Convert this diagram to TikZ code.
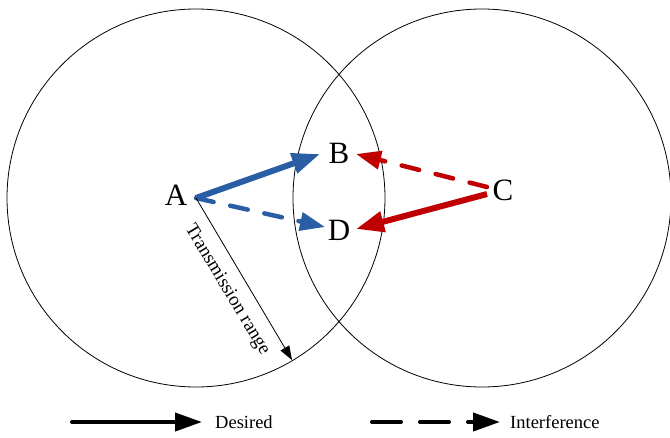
\documentclass[tikz,border=0pt]{standalone}
\usepackage{fontspec}
\setmainfont{Liberation Serif}
\usetikzlibrary{arrows.meta}
\definecolor{myblue}{RGB}{41,94,165}
\definecolor{myred}{RGB}{192,0,0}
\begin{document}
\begin{tikzpicture}[x=1pt,y=-1pt,
  ring/.style={draw=black,line width=0.8pt},
  letter/.style={font=\fontsize{31}{31}\selectfont,inner sep=0pt},
  solidarr/.style={-{Triangle[length=28pt,width=20pt]},line width=6pt},
  dasharr/.style={-{Triangle[length=25pt,width=18pt]},line width=4.5pt,line cap=round,dash pattern=on 18pt off 17pt},
  legtext/.style={font=\fontsize{18.5}{18.5}\selectfont,anchor=west,inner sep=0pt},
  legarr/.style={line width=4pt,line cap=round,-{Triangle[length=27pt,width=18pt]}}]
\useasboundingbox (0,0) rectangle (670,437);
\draw[ring] (196,198) circle[radius=189];
\draw[ring] (482,198) circle[radius=189];
\node[letter] (A) at (176,195) {A};
\node[letter] (B) at (339,153) {B};
\node[letter] (D) at (339,230) {D};
\node[letter] (C) at (503,190) {C};
\coordinate (a) at (196,198);
\coordinate (bt) at (320,154);
\coordinate (dt) at (325,227);
\coordinate (c1) at (487,187);
\coordinate (c2) at (487,194);
\coordinate (br) at (356,154);
\coordinate (dr) at (356,229);
\coordinate (rng) at (292,360);
\draw[solidarr,myblue] (a) -- (bt);
\draw[dasharr,myblue] (a) -- (dt);
\draw[dasharr,myred] (c1) -- (br);
\draw[solidarr,myred] (c2) -- (dr);
\draw[line width=0.8pt,-{Triangle[length=14pt,width=10pt]}] (a) -- (rng);
\node[font=\fontsize{19}{19}\selectfont,rotate=-59,inner sep=0pt] (tr) at (227,290) {Transmission range};
\coordinate (l1s) at (72,422);
\coordinate (l1e) at (202,422);
\coordinate (l2s) at (372,422);
\coordinate (l2e) at (500,422);
\draw[legarr] (l1s) -- (l1e);
\draw[legarr,dash pattern=on 29pt off 19pt] (l2s) -- (l2e);
\node[legtext] (des) at (215,422) {Desired};
\node[legtext] (int) at (510,422) {Interference};
\end{tikzpicture}
\end{document}
